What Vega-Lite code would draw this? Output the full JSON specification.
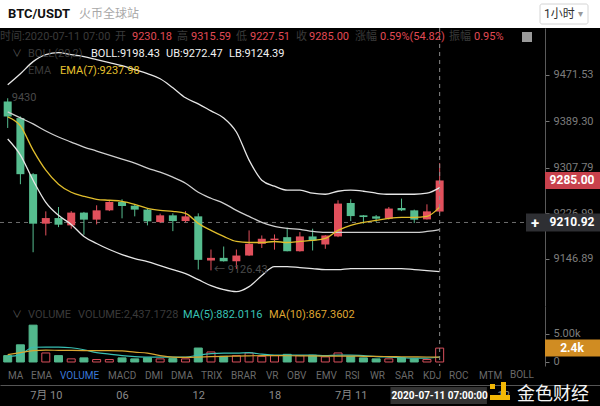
{
  "$schema": "https://vega.github.io/schema/vega-lite/v6.json",
  "width": 600,
  "height": 406,
  "autosize": {"type": "none"},
  "padding": 0,
  "background": "#000000",
  "config": {
    "view": {"stroke": null},
    "axisX": {"grid": false, "ticks": false, "title": null, "domainColor": "#555555"},
    "axisY": {"grid": false, "title": null},
    "text": {"font": "Roboto, 'Noto Sans CJK SC', sans-serif", "baseline": "middle", "align": "left", "fontSize": 11}
  },
  "resolve": {"scale": {"y": "independent"}, "axis": {"y": "independent"}},
  "datasets": {
    "one": [{"n": 1}],
    "candles": [
      {"i":0,"t":"2020-07-09 21:00","o":9424.2,"h":9430.0,"l":9377.6,"c":9397.6,"v":1120,"ub":9453.8,"mb":9406.0,"lb":9358.1,"ema":9397.1,"ma5":948,"ma10":1293},
      {"i":1,"t":"2020-07-09 22:00","o":9395.0,"h":9398.0,"l":9278.4,"c":9296.1,"v":3017,"ub":9473.3,"mb":9395.3,"lb":9329.8,"ema":9381.2,"ma5":1293,"ma10":1638},
      {"i":2,"t":"2020-07-09 23:00","o":9296.1,"h":9298.0,"l":9158.4,"c":9208.8,"v":6466,"ub":9494.6,"mb":9384.7,"lb":9285.5,"ema":9338.6,"ma5":2586,"ma10":1983},
      {"i":3,"t":"2020-07-10 00:00","o":9208.8,"h":9230.5,"l":9188.0,"c":9218.7,"v":1586,"ub":9507.0,"mb":9372.3,"lb":9246.5,"ema":9303.2,"ma5":2620,"ma10":2069},
      {"i":4,"t":"2020-07-10 01:00","o":9218.7,"h":9238.2,"l":9202.7,"c":9207.0,"v":1120,"ub":9510.5,"mb":9361.7,"lb":9223.5,"ema":9278.4,"ma5":2620,"ma10":2050},
      {"i":5,"t":"2020-07-10 02:00","o":9205.8,"h":9231.0,"l":9199.9,"c":9228.3,"v":550,"ub":9507.0,"mb":9352.8,"lb":9207.5,"ema":9264.2,"ma5":2500,"ma10":2030},
      {"i":6,"t":"2020-07-10 03:00","o":9228.3,"h":9229.5,"l":9189.3,"c":9215.9,"v":724,"ub":9503.4,"mb":9344.0,"lb":9186.3,"ema":9257.1,"ma5":2155,"ma10":2010},
      {"i":7,"t":"2020-07-10 04:00","o":9215.9,"h":9241.2,"l":9207.5,"c":9232.3,"v":431,"ub":9498.1,"mb":9336.9,"lb":9173.9,"ema":9251.8,"ma5":1638,"ma10":2000},
      {"i":8,"t":"2020-07-10 05:00","o":9232.3,"h":9248.5,"l":9231.0,"c":9247.0,"v":431,"ub":9492.8,"mb":9329.8,"lb":9163.2,"ema":9250.1,"ma5":1379,"ma10":1990},
      {"i":9,"t":"2020-07-10 06:00","o":9247.0,"h":9251.8,"l":9218.2,"c":9240.0,"v":724,"ub":9487.5,"mb":9322.7,"lb":9154.4,"ema":9248.3,"ma5":1121,"ma10":1950},
      {"i":10,"t":"2020-07-10 07:00","o":9240.5,"h":9243.0,"l":9221.7,"c":9233.6,"v":550,"ub":9480.4,"mb":9315.6,"lb":9147.3,"ema":9243.0,"ma5":948,"ma10":1724},
      {"i":11,"t":"2020-07-10 08:00","o":9233.6,"h":9236.0,"l":9205.8,"c":9212.9,"v":724,"ub":9473.3,"mb":9306.8,"lb":9141.9,"ema":9235.9,"ma5":862,"ma10":1552},
      {"i":12,"t":"2020-07-10 09:00","o":9211.6,"h":9226.5,"l":9209.9,"c":9223.5,"v":550,"ub":9464.4,"mb":9299.6,"lb":9134.9,"ema":9232.3,"ma5":862,"ma10":1121},
      {"i":13,"t":"2020-07-10 10:00","o":9223.5,"h":9227.0,"l":9195.6,"c":9213.4,"v":600,"ub":9448.5,"mb":9290.8,"lb":9127.8,"ema":9230.5,"ma5":862,"ma10":862},
      {"i":14,"t":"2020-07-10 11:00","o":9213.4,"h":9231.0,"l":9211.0,"c":9221.7,"v":550,"ub":9430.8,"mb":9280.2,"lb":9120.7,"ema":9227.0,"ma5":862,"ma10":810},
      {"i":15,"t":"2020-07-10 12:00","o":9221.7,"h":9227.0,"l":9128.0,"c":9145.0,"v":2448,"ub":9420.1,"mb":9264.2,"lb":9110.1,"ema":9209.3,"ma5":1207,"ma10":862},
      {"i":16,"t":"2020-07-10 13:00","o":9143.8,"h":9163.2,"l":9126.43,"c":9148.5,"v":1759,"ub":9407.7,"mb":9253.6,"lb":9099.5,"ema":9196.9,"ma5":1466,"ma10":948},
      {"i":17,"t":"2020-07-10 14:00","o":9148.5,"h":9168.5,"l":9142.0,"c":9142.5,"v":1000,"ub":9395.3,"mb":9244.7,"lb":9092.4,"ema":9186.3,"ma5":1552,"ma10":1000},
      {"i":18,"t":"2020-07-10 15:00","o":9142.5,"h":9163.2,"l":9129.0,"c":9152.6,"v":1120,"ub":9370.5,"mb":9232.3,"lb":9088.8,"ema":9177.4,"ma5":1552,"ma10":1034},
      {"i":19,"t":"2020-07-10 16:00","o":9152.6,"h":9196.9,"l":9152.0,"c":9173.3,"v":1586,"ub":9320.9,"mb":9221.7,"lb":9097.7,"ema":9175.6,"ma5":1638,"ma10":1080},
      {"i":20,"t":"2020-07-10 17:00","o":9173.3,"h":9188.0,"l":9166.0,"c":9182.2,"v":1000,"ub":9285.5,"mb":9211.0,"lb":9117.2,"ema":9175.6,"ma5":1379,"ma10":1121},
      {"i":21,"t":"2020-07-10 18:00","o":9180.0,"h":9189.8,"l":9163.0,"c":9182.5,"v":1120,"ub":9274.9,"mb":9203.9,"lb":9133.1,"ema":9177.4,"ma5":1207,"ma10":1121},
      {"i":22,"t":"2020-07-10 19:00","o":9185.0,"h":9201.7,"l":9160.0,"c":9160.2,"v":1345,"ub":9267.8,"mb":9200.4,"lb":9133.1,"ema":9175.6,"ma5":1207,"ma10":1100},
      {"i":23,"t":"2020-07-10 20:00","o":9160.2,"h":9193.9,"l":9159.5,"c":9186.3,"v":1120,"ub":9267.8,"mb":9198.7,"lb":9131.3,"ema":9177.4,"ma5":1207,"ma10":1080},
      {"i":24,"t":"2020-07-10 21:00","o":9186.3,"h":9199.9,"l":9161.5,"c":9179.2,"v":1200,"ub":9262.5,"mb":9195.1,"lb":9129.6,"ema":9179.2,"ma5":1207,"ma10":1060},
      {"i":25,"t":"2020-07-10 22:00","o":9172.1,"h":9188.5,"l":9164.5,"c":9188.0,"v":897,"ub":9260.7,"mb":9193.3,"lb":9127.8,"ema":9182.7,"ma5":1121,"ma10":1040},
      {"i":26,"t":"2020-07-10 23:00","o":9186.3,"h":9250.1,"l":9185.0,"c":9244.2,"v":1586,"ub":9266.0,"mb":9193.3,"lb":9127.8,"ema":9196.9,"ma5":1207,"ma10":1040},
      {"i":27,"t":"2020-07-11 00:00","o":9245.3,"h":9251.8,"l":9213.4,"c":9222.2,"v":1000,"ub":9267.8,"mb":9193.3,"lb":9129.6,"ema":9205.8,"ma5":1207,"ma10":1034},
      {"i":28,"t":"2020-07-11 01:00","o":9223.5,"h":9224.0,"l":9208.8,"c":9220.5,"v":724,"ub":9266.0,"mb":9193.3,"lb":9129.6,"ema":9211.2,"ma5":1121,"ma10":1000},
      {"i":29,"t":"2020-07-11 02:00","o":9221.7,"h":9224.0,"l":9211.6,"c":9217.6,"v":550,"ub":9262.5,"mb":9193.3,"lb":9129.6,"ema":9214.6,"ma5":948,"ma10":980},
      {"i":30,"t":"2020-07-11 03:00","o":9217.6,"h":9238.2,"l":9216.0,"c":9235.4,"v":550,"ub":9260.7,"mb":9193.3,"lb":9129.6,"ema":9218.2,"ma5":862,"ma10":950},
      {"i":31,"t":"2020-07-11 04:00","o":9236.4,"h":9253.0,"l":9231.0,"c":9232.3,"v":724,"ub":9260.7,"mb":9193.3,"lb":9129.6,"ema":9219.9,"ma5":776,"ma10":920},
      {"i":32,"t":"2020-07-11 05:00","o":9232.3,"h":9233.6,"l":9209.9,"c":9215.9,"v":550,"ub":9260.7,"mb":9193.3,"lb":9127.8,"ema":9219.9,"ma5":690,"ma10":900},
      {"i":33,"t":"2020-07-11 06:00","o":9216.4,"h":9242.9,"l":9216.0,"c":9230.5,"v":431,"ub":9262.5,"mb":9195.1,"lb":9126.0,"ema":9221.7,"ma5":690,"ma10":880},
      {"i":34,"t":"2020-07-11 07:00","o":9230.18,"h":9315.59,"l":9227.51,"c":9285.0,"v":2437.17,"ub":9272.47,"mb":9198.43,"lb":9124.39,"ema":9237.98,"ma5":882.01,"ma10":867.36}
    ]
  },
  "layer": [
    {"data": {"name": "one"}, "mark": {"type": "rect", "x": 0, "x2": 600, "y": 0, "y2": 28, "fill": "#ffffff"}},
    {"data": {"name": "one"}, "mark": {"type": "text", "text": "BTC/USDT", "x": 8, "y": 14, "fontSize": 13, "fontWeight": "bold", "color": "#111111"}},
    {"data": {"name": "one"}, "mark": {"type": "text", "text": "火币全球站", "x": 79, "y": 14, "fontSize": 12, "color": "#a8a8a8"}},
    {"data": {"name": "one"}, "mark": {"type": "rect", "x": 540, "x2": 588, "y": 4, "y2": 24, "fill": "#ffffff", "stroke": "#d4d4d4", "cornerRadius": 2}},
    {"data": {"name": "one"}, "mark": {"type": "text", "text": "1小时", "x": 544, "y": 14, "fontSize": 12, "color": "#333333"}},
    {"data": {"name": "one"}, "mark": {"type": "text", "text": "▾", "x": 578, "y": 14, "fontSize": 10, "color": "#999999"}},

    {"data": {"name": "one"}, "mark": {"type": "rect", "x": 545, "x2": 600, "y": 172, "y2": 189, "fill": "#c8414c"}},
    {"data": {"name": "one"}, "mark": {"type": "rect", "x": 526, "x2": 600, "y": 213.5, "y2": 231.5, "fill": "#2e2f33"}},
    {"data": {"name": "one"}, "mark": {"type": "rect", "x": 545, "x2": 600, "y": 339.5, "y2": 356.5, "fill": "#d08c22"}},

    {
      "layer": [
        {
          "data": {"name": "one"},
          "mark": {"type": "rule", "x": 0, "x2": 526, "color": "#6e6e6e", "strokeDash": [4, 4], "strokeWidth": 1},
          "encoding": {"y": {"datum": 9210.92, "type": "quantitative", "scale": {"domain": [9063.6, 9553.9], "range": [306, 28], "nice": false, "zero": false},
            "axis": {"orient": "right", "offset": -55, "values": [9146.89, 9226.99, 9307.79, 9389.30, 9471.53], "format": ".2f", "labelColor": "#7d7d7d", "labelFontSize": 11, "labelFont": "Roboto", "tickColor": "#777777", "tickSize": 4, "labelPadding": 4, "domainColor": "#5a5a5a", "title": null}}}
        },
        {
          "data": {"name": "candles"},
          "mark": {"type": "rule", "strokeWidth": 1, "clip": true},
          "encoding": {
            "x": {"field": "i", "type": "quantitative", "title": null, "scale": {"domain": [-0.212, 46.227], "nice": false, "zero": false}},
            "y": {"field": "l", "type": "quantitative", "title": null},
            "y2": {"field": "h"},
            "color": {"condition": {"test": "datum.c >= datum.o", "value": "#e1505c"}, "value": "#56bd8f"}
          }
        },
        {
          "data": {"name": "candles"},
          "mark": {"type": "bar", "width": 8, "clip": true},
          "encoding": {
            "x": {"field": "i", "type": "quantitative", "title": null},
            "y": {"field": "o", "type": "quantitative", "title": null},
            "y2": {"field": "c"},
            "color": {"condition": {"test": "datum.c >= datum.o", "value": "#e1505c"}, "value": "#56bd8f"}
          }
        },
        {
          "data": {"name": "candles"},
          "mark": {"type": "line", "color": "#e6e6e6", "strokeWidth": 1.3, "interpolate": "monotone", "clip": true},
          "encoding": {"x": {"field": "i", "type": "quantitative", "title": null}, "y": {"field": "ub", "type": "quantitative", "title": null}}
        },
        {
          "data": {"name": "candles"},
          "mark": {"type": "line", "color": "#cfcfcf", "strokeWidth": 1.3, "interpolate": "monotone", "clip": true},
          "encoding": {"x": {"field": "i", "type": "quantitative", "title": null}, "y": {"field": "mb", "type": "quantitative", "title": null}}
        },
        {
          "data": {"name": "candles"},
          "mark": {"type": "line", "color": "#e6e6e6", "strokeWidth": 1.3, "interpolate": "monotone", "clip": true},
          "encoding": {"x": {"field": "i", "type": "quantitative", "title": null}, "y": {"field": "lb", "type": "quantitative", "title": null}}
        },
        {
          "data": {"name": "candles"},
          "mark": {"type": "line", "color": "#e0bd2c", "strokeWidth": 1.3, "interpolate": "monotone", "clip": true},
          "encoding": {"x": {"field": "i", "type": "quantitative", "title": null}, "y": {"field": "ema", "type": "quantitative", "title": null}}
        },
        {
          "data": {"name": "one"},
          "mark": {"type": "text", "text": "9430", "dx": 4, "color": "#4a4a4a", "fontSize": 11},
          "encoding": {"x": {"datum": 0, "type": "quantitative"}, "y": {"datum": 9430, "type": "quantitative"}}
        },
        {
          "data": {"name": "one"},
          "mark": {"type": "text", "text": "← 9126.43", "dx": 3, "color": "#4a4a4a", "fontSize": 11},
          "encoding": {"x": {"datum": 16, "type": "quantitative"}, "y": {"datum": 9126.43, "type": "quantitative"}}
        },
        {
          "data": {"name": "one"},
          "mark": {"type": "text", "text": "9285.00", "x": 572, "align": "center", "fontSize": 12, "fontWeight": "bold", "color": "#ffffff"},
          "encoding": {"y": {"datum": 9285, "type": "quantitative"}}
        },
        {
          "data": {"name": "one"},
          "mark": {"type": "text", "text": "9210.92", "x": 572, "align": "center", "fontSize": 12, "fontWeight": "bold", "color": "#ffffff"},
          "encoding": {"y": {"datum": 9210.92, "type": "quantitative"}}
        }
      ]
    },

    {
      "layer": [
        {
          "data": {"name": "candles"},
          "mark": {"type": "bar", "width": 8, "strokeWidth": 1, "clip": true},
          "encoding": {
            "x": {"field": "i", "type": "quantitative", "title": null},
            "y": {"field": "v", "type": "quantitative", "title": null,
              "scale": {"domain": [-702, 9825], "range": [366, 306], "nice": false, "zero": false},
              "axis": {"orient": "right", "offset": -55, "values": [0, 2437.17, 5000], "labelExpr": "datum.value == 0 ? '0' : datum.value == 5000 ? '5.00k' : ''", "labelColor": "#7d7d7d", "labelFontSize": 11, "labelFont": "Roboto", "tickColor": "#777777", "tickSize": 4, "labelPadding": 4, "domainColor": "#5a5a5a", "title": null}},
            "y2": {"datum": 0},
            "fill": {"condition": {"test": "datum.c >= datum.o", "value": "#000000"}, "value": "#52b88c"},
            "stroke": {"condition": {"test": "datum.c >= datum.o", "value": "#d9505c"}, "value": "#52b88c"}
          }
        },
        {
          "data": {"name": "candles"},
          "mark": {"type": "line", "color": "#38bfb3", "strokeWidth": 1.2, "interpolate": "monotone", "clip": true},
          "encoding": {"x": {"field": "i", "type": "quantitative", "title": null}, "y": {"field": "ma5", "type": "quantitative", "title": null}}
        },
        {
          "data": {"name": "candles"},
          "mark": {"type": "line", "color": "#d7a531", "strokeWidth": 1.2, "interpolate": "monotone", "clip": true},
          "encoding": {"x": {"field": "i", "type": "quantitative", "title": null}, "y": {"field": "ma10", "type": "quantitative", "title": null}}
        },
        {
          "data": {"name": "one"},
          "mark": {"type": "text", "text": "2.4k", "x": 572, "align": "center", "fontSize": 12, "fontWeight": "bold", "color": "#ffffff"},
          "encoding": {"y": {"datum": 2437.17, "type": "quantitative"}}
        }
      ]
    },

    {"data": {"name": "one"}, "mark": {"type": "text", "text": "+", "x": 535, "y": 222.5, "align": "center", "fontSize": 15, "fontWeight": "bold", "color": "#ffffff"}},

    {"data": {"name": "one"}, "mark": {"type": "rule", "x": 0, "x2": 600, "y": 306, "y2": 306, "color": "#4a4a4a", "strokeWidth": 1}, "encoding": {}},
    {"data": {"name": "one"}, "mark": {"type": "rule", "x": 0, "x2": 545, "y": 366, "y2": 366, "color": "#4a4a4a", "strokeWidth": 1}, "encoding": {}},
    {
      "data": {"name": "one"},
      "mark": {"type": "rule", "y": 28, "y2": 366, "color": "#8a8a8a", "strokeDash": [4, 4], "strokeWidth": 1},
      "encoding": {"x": {"datum": 34, "type": "quantitative"}}
    },

    {"data": {"name": "one"}, "mark": {"type": "text", "text": "时间:2020-07-11 07:00", "x": 0, "y": 37, "color": "#3a3a3a"}},
    {"data": {"name": "one"}, "mark": {"type": "text", "text": "开", "x": 115, "y": 37, "color": "#3a3a3a"}},
    {"data": {"name": "one"}, "mark": {"type": "text", "text": "9230.18", "x": 132, "y": 37, "color": "#e04a55"}},
    {"data": {"name": "one"}, "mark": {"type": "text", "text": "高", "x": 177, "y": 37, "color": "#3a3a3a"}},
    {"data": {"name": "one"}, "mark": {"type": "text", "text": "9315.59", "x": 191, "y": 37, "color": "#e04a55"}},
    {"data": {"name": "one"}, "mark": {"type": "text", "text": "低", "x": 236, "y": 37, "color": "#3a3a3a"}},
    {"data": {"name": "one"}, "mark": {"type": "text", "text": "9227.51", "x": 250, "y": 37, "color": "#e04a55"}},
    {"data": {"name": "one"}, "mark": {"type": "text", "text": "收", "x": 296, "y": 37, "color": "#3a3a3a"}},
    {"data": {"name": "one"}, "mark": {"type": "text", "text": "9285.00", "x": 309, "y": 37, "color": "#e04a55"}},
    {"data": {"name": "one"}, "mark": {"type": "text", "text": "涨幅", "x": 355, "y": 37, "color": "#3a3a3a"}},
    {"data": {"name": "one"}, "mark": {"type": "text", "text": "0.59%(54.82)", "x": 380, "y": 37, "color": "#e04a55"}},
    {"data": {"name": "one"}, "mark": {"type": "text", "text": "振幅", "x": 449, "y": 37, "color": "#3a3a3a"}},
    {"data": {"name": "one"}, "mark": {"type": "text", "text": "0.95%", "x": 474, "y": 37, "color": "#e04a55"}},
    {"data": {"name": "one"}, "mark": {"type": "rect", "x": 522, "x2": 532, "y": 32, "y2": 42, "fill": "#9a9a9a"}},
    {"data": {"name": "one"}, "mark": {"type": "text", "text": "∨", "x": 12, "y": 54, "color": "#555555", "fontSize": 10}},
    {"data": {"name": "one"}, "mark": {"type": "text", "text": "BOLL(20,2)", "x": 28, "y": 54, "color": "#3a3a3a"}},
    {"data": {"name": "one"}, "mark": {"type": "text", "text": "BOLL:9198.43", "x": 91, "y": 54, "color": "#f2f2f2"}},
    {"data": {"name": "one"}, "mark": {"type": "text", "text": "UB:9272.47", "x": 166, "y": 54, "color": "#f2f2f2"}},
    {"data": {"name": "one"}, "mark": {"type": "text", "text": "LB:9124.39", "x": 229, "y": 54, "color": "#f2f2f2"}},
    {"data": {"name": "one"}, "mark": {"type": "text", "text": "EMA", "x": 28, "y": 71, "color": "#3a3a3a"}},
    {"data": {"name": "one"}, "mark": {"type": "text", "text": "EMA(7):9237.98", "x": 60, "y": 71, "color": "#e6c22e"}},

    {"data": {"name": "one"}, "mark": {"type": "text", "text": "∨", "x": 12, "y": 315, "color": "#555555", "fontSize": 10}},
    {"data": {"name": "one"}, "mark": {"type": "text", "text": "VOLUME", "x": 28, "y": 315, "color": "#3a3a3a"}},
    {"data": {"name": "one"}, "mark": {"type": "text", "text": "VOLUME:2,437.1728", "x": 78, "y": 315, "color": "#3a3a3a"}},
    {"data": {"name": "one"}, "mark": {"type": "text", "text": "MA(5):882.0116", "x": 183, "y": 315, "color": "#38c2b5"}},
    {"data": {"name": "one"}, "mark": {"type": "text", "text": "MA(10):867.3602", "x": 269, "y": 315, "color": "#dfa632"}},

    {"data": {"name": "one"}, "mark": {"type": "text", "text": "MA", "x": 8, "y": 376, "fontSize": 10, "color": "#6a6a6a"}},
    {"data": {"name": "one"}, "mark": {"type": "text", "text": "EMA", "x": 31, "y": 376, "fontSize": 10, "color": "#6a6a6a"}},
    {"data": {"name": "one"}, "mark": {"type": "text", "text": "VOLUME", "x": 60, "y": 376, "fontSize": 10, "color": "#3a78d8"}},
    {"data": {"name": "one"}, "mark": {"type": "text", "text": "MACD", "x": 108, "y": 376, "fontSize": 10, "color": "#6a6a6a"}},
    {"data": {"name": "one"}, "mark": {"type": "text", "text": "DMI", "x": 145, "y": 376, "fontSize": 10, "color": "#6a6a6a"}},
    {"data": {"name": "one"}, "mark": {"type": "text", "text": "DMA", "x": 171, "y": 376, "fontSize": 10, "color": "#6a6a6a"}},
    {"data": {"name": "one"}, "mark": {"type": "text", "text": "TRIX", "x": 201, "y": 376, "fontSize": 10, "color": "#6a6a6a"}},
    {"data": {"name": "one"}, "mark": {"type": "text", "text": "BRAR", "x": 231, "y": 376, "fontSize": 10, "color": "#6a6a6a"}},
    {"data": {"name": "one"}, "mark": {"type": "text", "text": "VR", "x": 266, "y": 376, "fontSize": 10, "color": "#6a6a6a"}},
    {"data": {"name": "one"}, "mark": {"type": "text", "text": "OBV", "x": 287, "y": 376, "fontSize": 10, "color": "#6a6a6a"}},
    {"data": {"name": "one"}, "mark": {"type": "text", "text": "EMV", "x": 316, "y": 376, "fontSize": 10, "color": "#6a6a6a"}},
    {"data": {"name": "one"}, "mark": {"type": "text", "text": "RSI", "x": 345, "y": 376, "fontSize": 10, "color": "#6a6a6a"}},
    {"data": {"name": "one"}, "mark": {"type": "text", "text": "WR", "x": 370, "y": 376, "fontSize": 10, "color": "#6a6a6a"}},
    {"data": {"name": "one"}, "mark": {"type": "text", "text": "SAR", "x": 395, "y": 376, "fontSize": 10, "color": "#6a6a6a"}},
    {"data": {"name": "one"}, "mark": {"type": "text", "text": "KDJ", "x": 423, "y": 376, "fontSize": 10, "color": "#6a6a6a"}},
    {"data": {"name": "one"}, "mark": {"type": "text", "text": "ROC", "x": 449, "y": 376, "fontSize": 10, "color": "#6a6a6a"}},
    {"data": {"name": "one"}, "mark": {"type": "text", "text": "MTM", "x": 479, "y": 376, "fontSize": 10, "color": "#6a6a6a"}},
    {"data": {"name": "one"}, "mark": {"type": "text", "text": "BOLL", "x": 510, "y": 375, "fontSize": 10, "color": "#6a6a6a"}},

    {
      "data": {"name": "one"},
      "mark": {"type": "rect", "y": 387, "y2": 404, "fill": "#333333"},
      "encoding": {
        "x": {"datum": 30.13, "type": "quantitative", "title": null,
          "axis": {"orient": "bottom", "offset": -21, "labels": true, "ticks": false, "domain": true, "domainColor": "#555555", "values": [3, 9, 15, 21, 27, 39], "labelExpr": "datum.value == 3 ? '7月 10' : datum.value == 27 ? '7月 11' : (datum.value - 3) % 24 == 6 ? '06' : (datum.value - 3) % 24 == 12 ? '12' : '18'", "labelColor": "#8a8a8a", "labelFontSize": 11, "labelFont": "Roboto, 'Noto Sans CJK SC', sans-serif", "labelPadding": 4, "labelBaseline": "top", "labelFlush": false, "labelOverlap": false, "title": null}},
        "x2": {"datum": 37.72}
      }
    },
    {
      "data": {"name": "one"},
      "mark": {"type": "text", "text": "2020-07-11 07:00:00", "y": 395.5, "align": "center", "fontSize": 10, "fontWeight": "bold", "color": "#ffffff"},
      "encoding": {"x": {"datum": 34, "type": "quantitative"}}
    },
    {"data": {"name": "one"}, "mark": {"type": "rect", "x": 501, "x2": 506, "y": 382, "y2": 399, "fill": "#f2b705"}},
    {"data": {"name": "one"}, "mark": {"type": "rect", "x": 490, "x2": 510, "y": 395, "y2": 400, "fill": "#f2b705"}},
    {"data": {"name": "one"}, "mark": {"type": "rect", "x": 490, "x2": 495, "y": 384, "y2": 389, "fill": "#f2b705"}},
    {"data": {"name": "one"}, "mark": {"type": "text", "text": "金色财经", "x": 553, "y": 394.5, "align": "center", "fontSize": 18, "font": "Noto Sans CJK SC", "color": "#f4f4f4"}}
  ]
}
